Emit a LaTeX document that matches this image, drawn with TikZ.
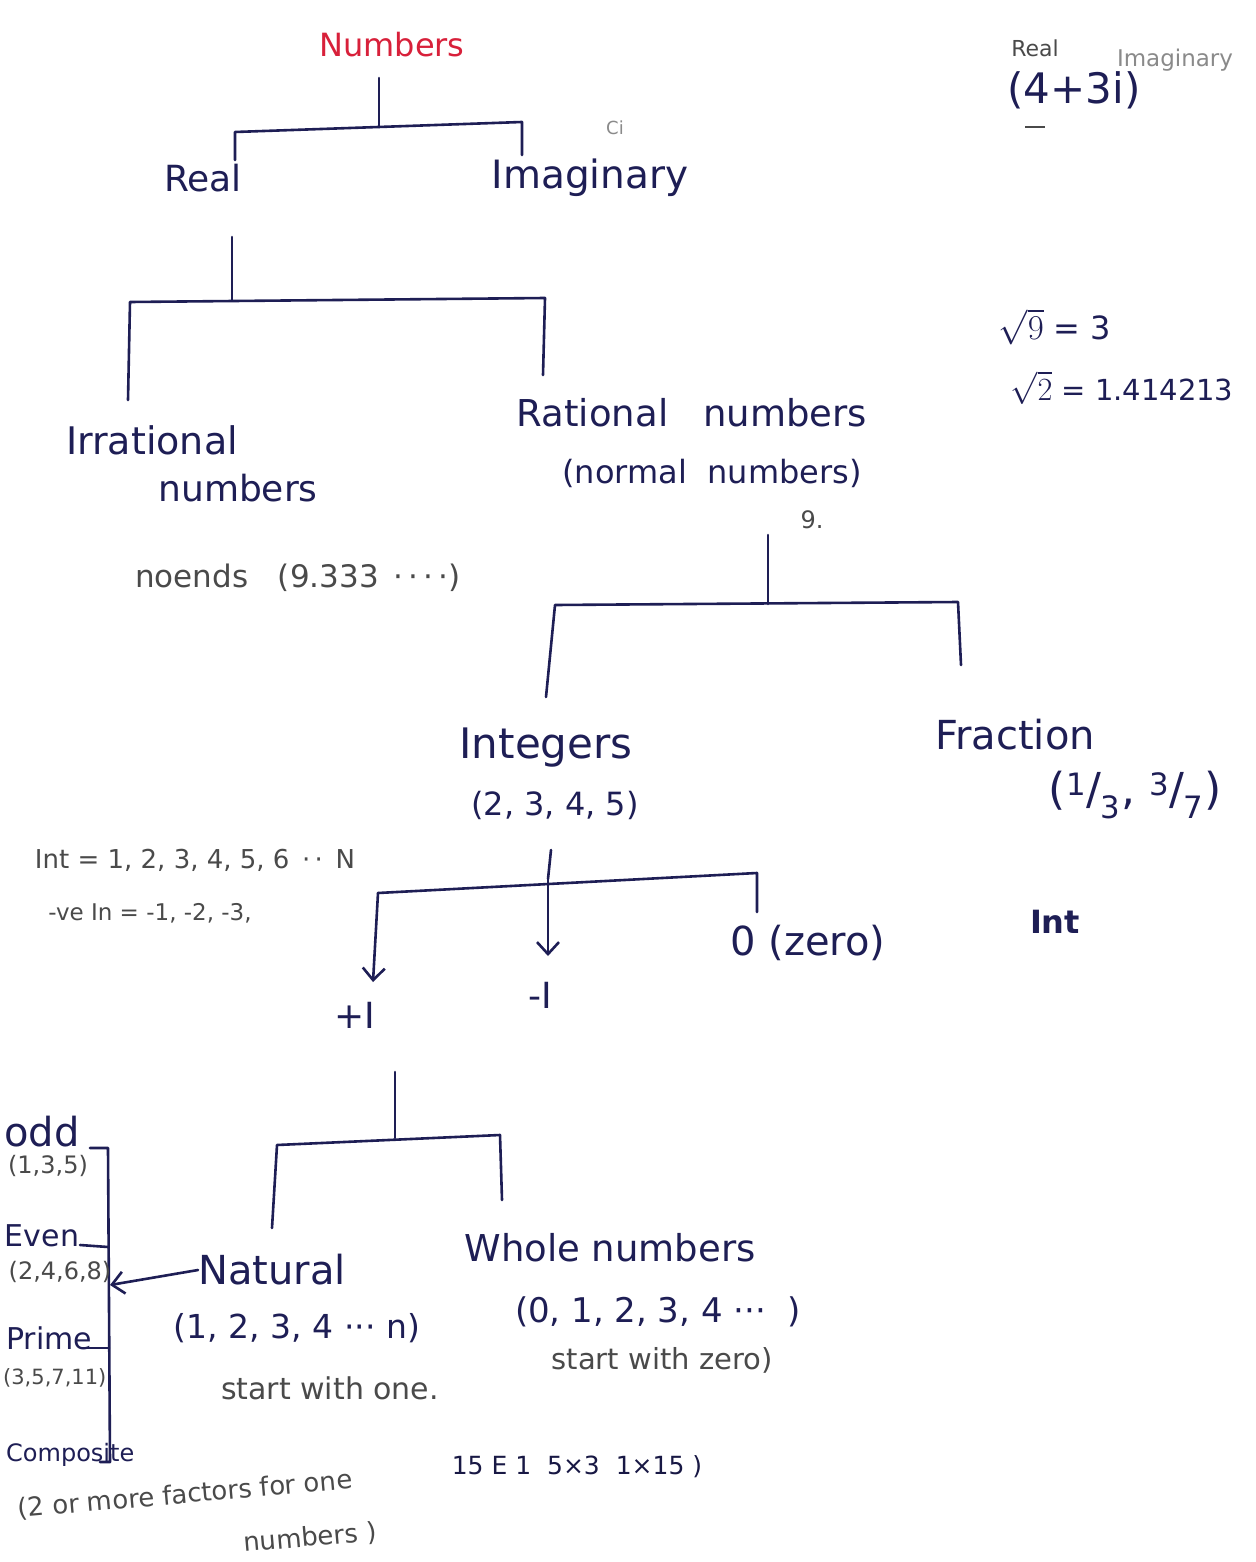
\documentclass[tikz,border=0pt]{standalone}
\usepackage{fontspec}
\setmainfont{DejaVu Sans}
\usetikzlibrary{arrows.meta,calc}
\definecolor{ink}{HTML}{1E1E55}
\definecolor{pencil}{HTML}{4A4A4A}
\definecolor{faint}{HTML}{8A8A8A}
\definecolor{redink}{HTML}{D8203A}
\newcommand{\fs}[1]{\fontsize{#1}{#1}\selectfont}
\begin{document}
\begin{tikzpicture}[x=1pt,y=-1pt,
  lbl/.style={text=ink, font=\fs{36}, inner sep=0pt},
  sub/.style={text=ink, font=\fs{30}, inner sep=0pt},
  note/.style={text=pencil, font=\fs{24}, inner sep=0pt},
  faintnote/.style={text=faint, font=\fs{18}, inner sep=0pt},
  conn/.style={draw=ink, line width=2.6pt, line cap=round, line join=round},
  arr/.style={conn, -{Straight Barb[length=12pt,width=22pt,line width=2.6pt]}}]
\useasboundingbox[fill=white] (0,0) rectangle (1255,1562);

% ---------- level 0
\node[lbl, text=redink, font=\fs{32}] (numbers) at (392,45) {Numbers};
\coordinate (j1top) at (379,78);
\coordinate (j1) at (379,127);
\coordinate (b1l) at (235,132);
\coordinate (b1r) at (522,122);
\draw[conn] (j1top) -- (j1);
\draw[conn] ($(b1l)+(0,28)$) -- (b1l) -- (b1r) -- ($(b1r)+(0,33)$);

\node[lbl] (real) at (203,178) {Real};
\node[lbl, font=\fs{39}] (imag) at (590,178) {Imaginary};
\node[faintnote] (ci) at (615,128) {Ci};

% ---------- real split
\coordinate (j2top) at (232,237);
\coordinate (j2) at (232,300);
\coordinate (b2l) at (130,302);
\coordinate (b2r) at (545,298);
\draw[conn] (j2top) -- (j2);
\draw[conn] (128,400) -- (b2l) -- (b2r) -- (543,375);

\node[lbl, font=\fs{38}] (irr1) at (152,440) {Irrational};
\node[lbl] (irr2) at (238,488) {numbers};
\node[note, font=\fs{31}] (noends) at (298,578) {noends\ \ \ (9.333 \,·\,·\,·\,·)};

\node[lbl, font=\fs{37}] (rat1) at (692,413) {Rational\ \ \ numbers};
\node[sub, font=\fs{32}] (rat2) at (712,473) {(normal\ \ numbers)};
\node[note] (nine) at (812,520) {9.};

% ---------- rational split
\coordinate (j3top) at (768,535);
\coordinate (j3) at (768,604);
\draw[conn] (j3top) -- (j3);
\draw[conn] (546,697) -- (555,605) -- (958,602) -- (961,665);

\node[lbl, font=\fs{42}] (integers) at (546,748) {Integers};
\node[sub, font=\fs{32}] (intex) at (555,805) {(2, 3, 4, 5)};
\node[lbl, font=\fs{40}] (fraction) at (1015,735) {Fraction};
\node[lbl, font=\fs{44}] (fracex) at (1135,795) {(\textsuperscript{1}/\textsubscript{3}, \textsuperscript{3}/\textsubscript{7})};

\node[note, font=\fs{26}] (posint) at (195,860) {Int = 1, 2, 3, 4, 5, 6 \,·\,·\, N};
\node[note, font=\fs{23}] (negint) at (150,913) {-ve In = -1, -2, -3,};

% ---------- integer split
\coordinate (j4top) at (551,850);
\coordinate (b4l) at (378,893);
\coordinate (b4r) at (757,873);
\coordinate (b4m) at (548,879);
\draw[conn] (j4top) -- (b4m);
\draw[conn] (757,912) -- (b4r) -- (b4l);
\draw[arr] (b4l) -- (373,982);
\draw[arr] (b4m) -- (548,956);

\node[lbl] (plusI) at (355,1015) {+I};
\node[lbl] (minusI) at (540,995) {-I};
\node[lbl, font=\fs{40}] (zero) at (808,943) {0 (zero)};
\node[sub, font=\fs{32}\bfseries] (intnote) at (1055,922) {Int};

% ---------- +I split
\coordinate (j5top) at (395,1072);
\coordinate (j5) at (395,1138);
\draw[conn] (j5top) -- (j5);
\draw[conn] (272,1228) -- (277,1145) -- (500,1135) -- (502,1200);

\node[lbl, font=\fs{40}] (natural) at (272,1270) {Natural};
\node[sub, font=\fs{33}] (natex) at (297,1328) {(1, 2, 3, 4 ··· n)};
\node[note, font=\fs{30}] (natnote) at (330,1388) {start\ with\ one.};

\node[lbl, font=\fs{37}] (whole) at (610,1248) {Whole numbers};
\node[sub, font=\fs{34}] (wholeex) at (658,1312) {(0, 1, 2, 3, 4 ···\ \ )};
\node[note, font=\fs{29}] (wholenote) at (662,1360) {start\ with\ zero)};

% ---------- bracket of natural kinds
\coordinate (brtop) at (108,1148);
\coordinate (brbot) at (110,1462);
\coordinate (brmid) at (110,1285);
\draw[conn] (90,1148) -- (brtop) -- (brbot) -- (100,1462);
\draw[conn] (80,1245) -- (108,1247);
\draw[conn] (82,1348) -- (109,1348);
\draw[arr] (natural.west) -- (brmid);

\node[lbl, font=\fs{40}] (odd) at (42,1132) {odd};
\node[note, font=\fs{24}] (oddex) at (48,1166) {(1,3,5)};
\node[sub] (even) at (42,1236) {Even};
\node[note, font=\fs{24}] (evenex) at (60,1272) {(2,4,6,8)};
\node[sub, anchor=west] (prime) at (6,1338) {Prime};
\node[note, font=\fs{21}, anchor=west] (primeex) at (3,1378) {(3,5,7,11)};
\node[sub, font=\fs{24}, anchor=west] (composite) at (6,1455) {Composite};
\node[note, font=\fs{26}, rotate=5] (compex1) at (185,1495) {(2 or more factors for one};
\node[note, font=\fs{26}, rotate=5] (compex2) at (310,1538) {numbers\ )};

\node[note, text=ink!80!black, font=\fs{25}] (fifteen) at (577,1467) {15 E 1\ \ 5×3\ \ 1×15\ )};

% ---------- top-right notes
\node[faintnote, text=pencil, font=\fs{22}] (tr_real) at (1035,48) {Real};
\node[faintnote, font=\fs{23}] (tr_imag) at (1175,60) {Imaginary};
\node[lbl, font=\fs{42}] (complex) at (1074,90) {(4+3i)};
\draw[draw=pencil, line width=1.5pt] (1025,127) -- (1045,127);
\node[sub, font=\fs{32}] (sqrt9) at (1055,327) {\scalebox{1.4}{$\sqrt{9}$} = 3};
\node[sub, font=\fs{29}] (sqrt2) at (1122,388) {\scalebox{1.3}{$\sqrt{2}$} = 1.414213};
\end{tikzpicture}
\end{document}
